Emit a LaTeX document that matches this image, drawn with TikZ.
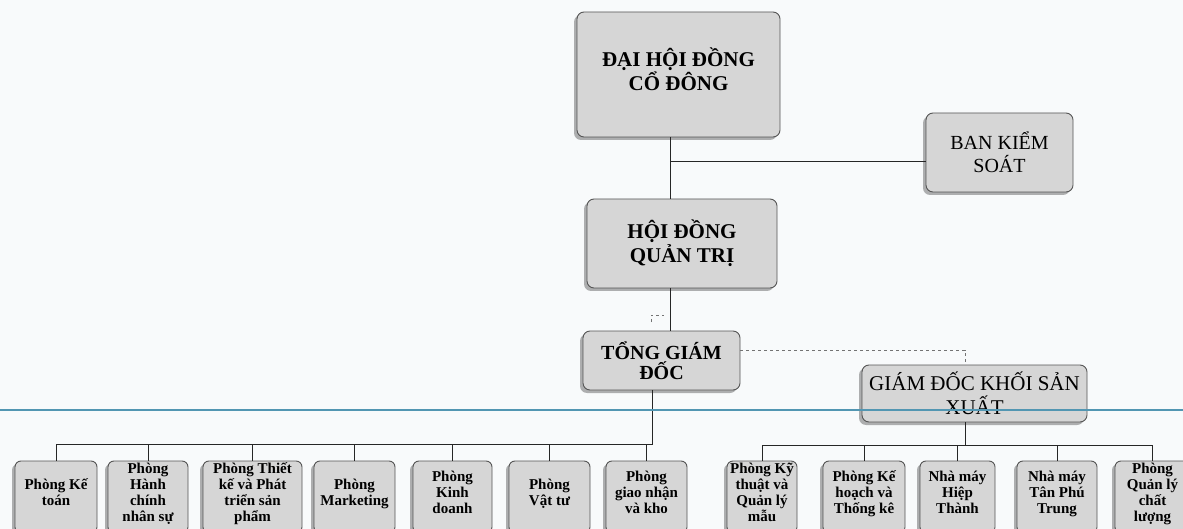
\documentclass[tikz,border=0pt]{standalone}
\usepackage{fontspec}
\setmainfont{Liberation Serif}
\usetikzlibrary{shadows,calc}
\definecolor{boxfill}{RGB}{214,214,214}
\definecolor{boxdraw}{RGB}{85,85,85}
\definecolor{bgc}{RGB}{248,250,251}
\definecolor{scanline}{RGB}{82,150,178}
\tikzset{
  orgbox/.style={draw=boxdraw, fill=boxfill, rounded corners=7pt, line width=0.9pt,
    align=center, inner sep=2pt,
    drop shadow={shadow xshift=-3pt, shadow yshift=-3pt, fill=black, opacity=0.3}},
  bigbold/.style={orgbox, font=\fontsize{21}{24}\selectfont\bfseries},
  bigreg/.style={orgbox, font=\fontsize{20}{23}\selectfont},
  smallbox/.style={orgbox, rounded corners=6pt, inner sep=1pt, minimum height=72pt,
    text depth=9pt, font=\fontsize{15}{16}\selectfont\bfseries},
  conn/.style={draw=black!85, line width=1pt},
  dconn/.style={draw=black!55, line width=0.8pt, dashed}
}
\begin{document}
\begin{tikzpicture}[x=1pt,y=-1pt]
\fill[bgc] (0,0) rectangle (1183,529);
\useasboundingbox (0,0) rectangle (1183,529);

% upper boxes
\node[bigbold, minimum width=203pt, minimum height=125pt, text depth=10pt] (dh) at (678.5,74.5) {ĐẠI HỘI ĐỒNG\\CỔ ĐÔNG};
\node[bigreg, minimum width=147pt, minimum height=79pt] (bks) at (999.5,152.5) {BAN KIỂM\\SOÁT};
\node[bigbold, minimum width=190pt, minimum height=89pt] (hq) at (682,243.5) {HỘI ĐỒNG\\QUẢN TRỊ};
\node[orgbox, font=\fontsize{20}{20}\selectfont\bfseries, minimum width=157pt, minimum height=59pt] (tgd) at (661.5,360.5) {TỔNG GIÁM\\ĐỐC};
\node[orgbox, font=\fontsize{21}{24}\selectfont, minimum width=225pt, minimum height=57pt] (gd) at (974.5,393.5) {GIÁM ĐỐC KHỐI SẢN\\XUẤT};

% lower boxes, left group
\node[smallbox, minimum width=82pt] (b1) at (56,497) {Phòng Kế\\toán};
\node[smallbox, minimum width=80pt] (b2) at (148,497) {Phòng\\Hành\\chính\\nhân sự};
\node[smallbox, minimum width=99pt] (b3) at (252.5,497) {Phòng Thiết\\kế và Phát\\triển sản\\phẩm};
\node[smallbox, minimum width=81pt] (b4) at (354.5,497) {Phòng\\Marketing};
\node[smallbox, minimum width=79pt] (b5) at (452.5,497) {Phòng\\Kinh\\doanh};
\node[smallbox, minimum width=81pt] (b6) at (549.5,497) {Phòng\\Vật tư};
\node[smallbox, minimum width=81pt] (b7) at (646.5,497) {Phòng\\giao nhận\\và kho};

% lower boxes, right group
\node[smallbox, minimum width=70pt] (b8) at (762,497) {Phòng Kỹ\\thuật và\\Quản lý\\mẫu};
\node[smallbox, minimum width=82pt] (b9) at (864,497) {Phòng Kế\\hoạch và\\Thống kê};
\node[smallbox, minimum width=75pt] (b10) at (957.5,497) {Nhà máy\\Hiệp\\Thành};
\node[smallbox, minimum width=80pt] (b11) at (1057,497) {Nhà máy\\Tân Phú\\Trung};
\node[smallbox, minimum width=75pt] (b12) at (1152.5,497) {Phòng\\Quản lý\\chất\\lượng};

% connectors
\coordinate (j1) at (670,162);
\draw[conn] (dh.south -| j1) -- (hq.north -| j1);
\draw[conn] (j1) -- (j1 -| bks.west);
\draw[conn] (hq.south -| j1) -- (tgd.north -| j1);
\draw[dconn] (651,322) -- (651,315) -- (664,315);

\coordinate (j2) at (965,350);
\draw[dconn] (tgd.east |- j2) -- (j2) -- (j2 |- gd.north);

\coordinate (j3) at (652,444);
\draw[conn] (tgd.south -| j3) -- (j3) -- (j3 -| b1.north);
\foreach \b in {b1,b2,b3,b4,b5,b6,b7}
  \draw[conn] (\b.north |- j3) -- (\b.north);

\coordinate (j4) at (965,445);
\draw[conn] (gd.south -| j4) -- (j4);
\draw[conn] (j4 -| b8.north) -- (j4 -| b12.north);
\foreach \b in {b8,b9,b10,b11,b12}
  \draw[conn] (\b.north |- j4) -- (\b.north);

% scanner line across the page
\draw[scanline, line width=2.5pt] (0,410) -- (1183,410);
\end{tikzpicture}
\end{document}
